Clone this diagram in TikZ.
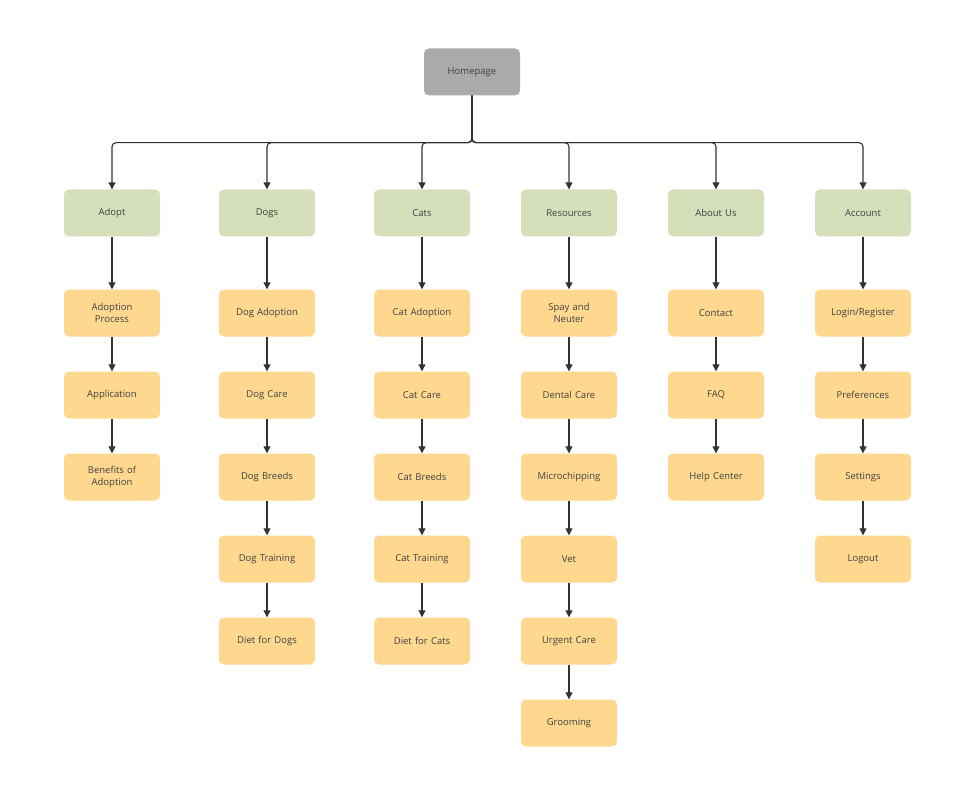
\documentclass[tikz,border=0pt]{standalone}
\usepackage{fontspec}
\setmainfont{Open Sans}
\usetikzlibrary{arrows.meta}
\definecolor{gr}{HTML}{AAAAAA}
\definecolor{gn}{HTML}{D5E0BA}
\definecolor{og}{HTML}{FFD88F}
\definecolor{tx}{HTML}{404040}
\definecolor{ln}{HTML}{333333}
\begin{document}
\begin{tikzpicture}[x=1pt,y=1pt,
 box/.style={rounded corners=5pt,minimum width=96pt,minimum height=47pt,text width=90pt,align=center,font=\fontsize{9.5pt}{12pt}\selectfont,text=tx,inner sep=0pt},
 cat/.style={box,fill=gn},
 sub/.style={box,fill=og},
 home/.style={box,fill=gr},
 arr/.style={draw=ln,line width=1.1pt,-{Triangle[length=7pt,width=7pt]}},
 br/.style={arr,rounded corners=4pt}]
\useasboundingbox (0,0) rectangle (980,-805);
\node[home] (home) at (472,-72) {Homepage};
\foreach \n/\x/\t in {a/112/Adopt,b/267/Dogs,c/422/Cats,d/569/Resources,e/716/About Us,f/863/Account}{
 \node[cat] (\n0) at (\x,-213) {\t};
 \draw[br] (home.south) -- ++(0,-47) -| (\n0.north);
}
\def\col#1#2#3{\foreach \t [count=\i, remember=\i as \j (initially 0)] in {#3}{
 \node[sub] (#1\i) at (#2,-313-82*\i+82) {\t};
 \draw[arr] (#1\j.south) -- (#1\i.north);}}
\col{a}{112}{{Adoption\\Process},Application,{Benefits of\\Adoption}}
\col{b}{267}{Dog Adoption,Dog Care,Dog Breeds,Dog Training,Diet for Dogs}
\col{c}{422}{Cat Adoption,Cat Care,Cat Breeds,Cat Training,Diet for Cats}
\col{d}{569}{{Spay and\\Neuter},Dental Care,Microchipping,Vet,Urgent Care,Grooming}
\col{e}{716}{Contact,FAQ,Help Center}
\col{f}{863}{Login/Register,Preferences,Settings,Logout}
\end{tikzpicture}
\end{document}
